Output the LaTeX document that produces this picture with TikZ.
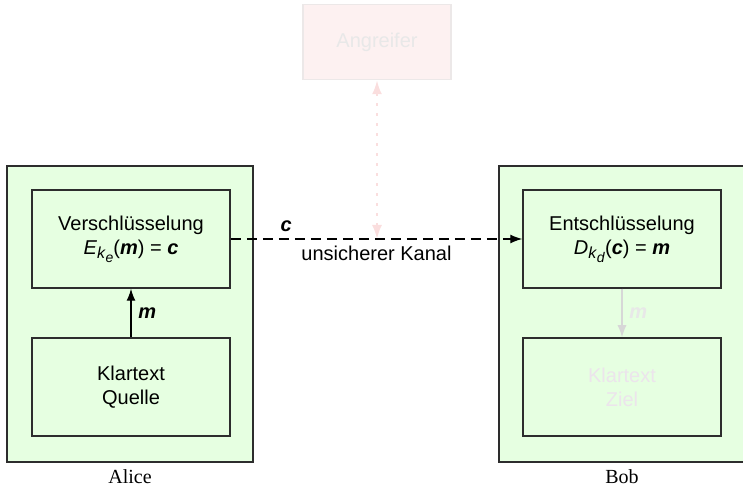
\documentclass[tikz,border=0pt]{standalone}
\usepackage{fontspec}
\setmainfont{Liberation Sans}
\newfontfamily\capfont{Liberation Serif}
\usetikzlibrary{positioning,arrows.meta}
\definecolor{BoxGreen}{RGB}{230,255,225}
\definecolor{FrameGray}{RGB}{45,45,45}
\definecolor{FadePink}{RGB}{253,241,241}
\definecolor{FadeBorder}{RGB}{236,232,232}
\definecolor{FadeArrow}{RGB}{250,222,222}
\definecolor{FadeText}{RGB}{232,232,232}
\definecolor{FadeZiel}{RGB}{236,228,236}
\definecolor{FadeLine}{RGB}{215,215,215}
\newcommand{\vecm}{\textbf{\textit{m}}}
\newcommand{\vecc}{\textbf{\textit{c}}}
% key with a lowered sub-index
\newcommand{\keyidx}[2]{\textit{#1}\raisebox{-0.45ex}{\footnotesize\textit{k}%
  \raisebox{-0.4ex}{\scriptsize\textit{#2}}}}
\tikzset{
  party/.style={draw=FrameGray,fill=BoxGreen,line width=0.75pt,
    minimum width=123pt,minimum height=148pt},
  unit/.style={draw=FrameGray,fill=BoxGreen,line width=0.75pt,
    minimum width=99pt,minimum height=49pt,align=center},
  attacker/.style={draw=FadeBorder,fill=FadePink,line width=0.75pt,text=FadeText,
    minimum width=74pt,minimum height=37.5pt},
  chan/.style={dash pattern=on 5pt off 3pt,line width=0.65pt,
    -{Latex[length=6pt,width=4.5pt]}},
  flow/.style={line width=0.65pt,-{Latex[length=6pt,width=4.5pt]}},
  who/.style={font=\capfont},
}

\begin{document}
\begin{tikzpicture}[x=0.5pt,y=-0.5pt]
\useasboundingbox (0,0) rectangle (743,490);
% the two parties
\node[party] (alice) at (130,314) {};
\node[party] (bob) at (622,314) {};
\node[who] at (130,477) {Alice};
\node[who] at (622,477) {Bob};
% Alice
\node[unit] (enc) at (131,239) {Verschlüsselung\\
  \keyidx{E}{e}(\vecm)\ =\ \vecc};
\node[unit] (src) at (131,387) {Klartext\\Quelle};
\draw[flow] (src) -- node[right]{\vecm} (enc);
% Bob
\node[unit] (dec) at (622,239) {Entschlüsselung\\
  \keyidx{D}{d}(\vecc)\ =\ \vecm};
\node[unit,text=FadeZiel] (dst) at (622,387) {Klartext\\Ziel};
\draw[flow,draw=FadeLine,color=FadeLine] (dec) -- node[right,text=FadeText]{\vecm} (dst);
% channel and attacker
\draw[chan] (enc) -- node[above,pos=0.19]{\vecc}
  node[below]{unsicherer Kanal} (dec);
\node[attacker] (eve) at (377,42) {Angreifer};
\coordinate (tap) at (eve |- enc.east);
\draw[FadeArrow,line width=1.1pt,dash pattern=on 1.5pt off 3.5pt,
  {Latex[length=7pt,width=5pt]}-{Latex[length=7pt,width=5pt]}] (eve) -- (tap);
\end{tikzpicture}
\end{document}
